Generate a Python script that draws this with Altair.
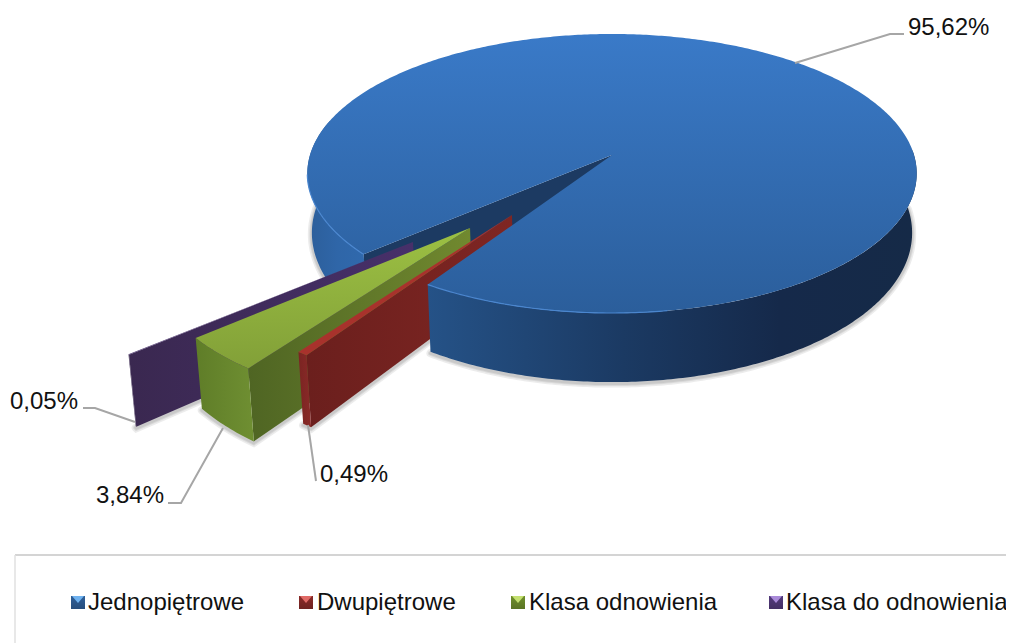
import math
import altair as alt

# ---- values ----
CATEGORIES = ["Jednopiętrowe", "Dwupiętrowe", "Klasa odnowienia", "Klasa do odnowienia"]
SHARES = [95.62, 0.49, 3.84, 0.05]
LABELS = ["95,62%", "0,49%", "3,84%", "0,05%"]

# ---- style / layout ----
FONT = "Liberation Sans"
LEADER = "#a6a6a6"
START_DEG = 228.6
EXPLODE = {1: (-0.313, 0.414), 2: (-0.439, 0.498), 3: (-0.608, 0.585)}
SLICE_R = 0.97
SLICE_TURN = 0.6
LABEL_POS = [(908, 35), (320, 482), (96, 503), (10, 409)]
LEADERS = [
    [(795, 63), (890, 34), (904, 34)],
    [(308, 425), (316, 481)],
    [(223, 428), (181, 503), (168, 503)],
    [(135, 422), (95, 408), (83, 408)],
]
LEGEND_TEXT_X = [88, 317, 529, 786]
LEGEND_KEY_X = [71, 299, 511, 769]
LEGEND_BASE = 610
KEY_COLORS = [("#2f5f98", "#264d7c", "#6fb2f0"), ("#8a2a28", "#6e2220", "#e06a66"),
              ("#6f8f2c", "#5a7424", "#c4e070"), ("#533a7c", "#432f64", "#a98ad8")]

CX, A, B, AV, CV = 612.0, 302.0, 155.0, 116.5, -0.1326


def top(u, v):
    d = 1 + CV * v
    return (CX + A * u / d, (AV * v + B) / d)


def bottom(p):
    return (CX + (p[0] - CX) * 0.985, p[1] * 1.07 + 47.2)


def on_rim(deg, r=1.0, off=(0.0, 0.0)):
    t = math.radians(deg)
    return top(off[0] + r * math.sin(t), off[1] - r * math.cos(t))


def arc(a0, a1, r=1.0, off=(0.0, 0.0)):
    n = max(2, int(abs(a1 - a0) * 1.5))
    return [on_rim(a0 + (a1 - a0) * i / n, r, off) for i in range(n + 1)]


def gradient(stops, horizontal=False):
    s = [alt.GradientStop(offset=o, color=c) for o, c in stops]
    if horizontal:
        return alt.Gradient(gradient="linear", stops=s, x1=0, y1=0, x2=1, y2=0)
    return alt.Gradient(gradient="linear", stops=s, x1=0, y1=0, x2=0, y2=1)


PROJ = dict(type="identity", scale=1, translate=[-8, -8])


def feature(kind, pts):
    coords = [list(p) for p in pts]
    if kind == "Polygon":
        coords = [coords + [coords[0]]]
    return {"type": "Feature", "properties": {}, "geometry": {"type": kind, "coordinates": coords}}


def poly(pts, fill, **kw):
    return (
        alt.Chart(alt.Data(values=[feature("Polygon", pts)]))
        .mark_geoshape(fill=fill, strokeWidth=0, **kw)
        .project(**PROJ)
    )


def line(pts, color, width, **kw):
    return (
        alt.Chart(alt.Data(values=[feature("LineString", pts)]))
        .mark_geoshape(filled=False, stroke=color, strokeWidth=width, **kw)
        .project(**PROJ)
    )


def wall(upper):
    return upper + [bottom(p) for p in reversed(upper)]


def soft_shadow(pts):
    moved = [(x, y + 1.5) for x, y in pts]
    return [line(moved, "#000000", w, opacity=0.07, strokeCap="round") for w in (8, 5, 3)]


# angles from the shares
spans = []
a = START_DEG
for s in SHARES:
    spans.append((a, a + s * 3.6))
    a += s * 3.6

layers = []
blue0, blue1 = spans[0]
apex = top(0, 0)

# ground shadows
layers += soft_shadow([bottom(p) for p in arc(blue1, blue1 - 125)])
layers += soft_shadow([bottom(p) for p in arc(blue0, 285)])
for i in (3, 2, 1):
    off = EXPLODE[i]
    rim = arc(spans[i][0] + SLICE_TURN, spans[i][1] + SLICE_TURN, SLICE_R, off)
    layers += soft_shadow([bottom(top(*off)), bottom(rim[0])] + [bottom(p) for p in rim])

# blue: back-left wall and the inner cut wall
layers.append(poly(wall(arc(blue0, 285)),
                   gradient([(0, "#2c5e9a"), (0.5, "#2f66a8"), (1, "#3069ad")], True)))
layers.append(poly(wall([apex, on_rim(blue0)]),
                   gradient([(0, "#1c3a62"), (1, "#1c3a62")])))

# exploded slices, far to near
slice_style = {
    3: dict(top=("#4f3470", "#47306a"), radial=("#3a2850", "#47306a"), outer=("#3a2850", "#3a2850")),
    2: dict(top=("#9cc043", "#82a038"), radial=("#4f6523", "#71892f"), outer=("#6f8f32", "#5f7d28")),
    1: dict(top=("#a8322c", "#a8322c"), radial=("#6b1f1d", "#7f2623"), outer=("#8a2a28", "#7a2422")),
}
for i in (3, 2, 1):
    a0, a1 = spans[i]
    a0 += SLICE_TURN
    a1 += SLICE_TURN
    off = EXPLODE[i]
    tip = top(*off)
    rim = arc(a0, a1, SLICE_R, off)
    st = slice_style[i]
    near = rim[0]
    layers.append(poly(wall([near, tip]), gradient([(0, st["radial"][0]), (1, st["radial"][1])], True)))
    layers.append(poly(wall(rim), gradient([(0, st["outer"][1]), (1, st["outer"][0])], True)))
    layers.append(poly([tip] + rim, gradient([(0, st["top"][0]), (1, st["top"][1])])))

# blue: front wall and top face
layers.append(poly(wall(arc(blue1, blue1 - 125)),
                   gradient([(0, "#255287"), (0.4, "#1b3a63"), (0.72, "#15294a"), (1, "#152a47")], True)))
layers.append(poly([apex] + arc(blue0, blue1),
                   gradient([(0, "#3a7ac8"), (1, "#2b5e9b")])))
layers.append(line(arc(blue1, blue1 - 42), "#4a86cf", 1.2))
layers.append(line(arc(blue0, 262), "#4a86cf", 1.2))

# leaders
for pts in LEADERS:
    layers.append(line(pts, LEADER, 2))

# legend frame
layers.append(line([(15, 555), (1014, 555)], "#c6c6c6", 1.5))
layers.append(line([(15, 555), (15, 643)], "#e0e0e0", 1.5))

# legend keys
for x, (dark, darker, light) in zip(LEGEND_KEY_X, KEY_COLORS):
    y0, y1 = 596, 609
    layers.append(poly([(x, y0), (x + 14, y0), (x + 14, y1), (x, y1)], gradient([(0, dark), (1, darker)])))
    layers.append(poly([(x + 1, y0), (x + 13, y0), (x + 7, y0 + 7)], light))

# texts
label_rows = [{"lon": p[0], "lat": p[1], "t": t} for p, t in zip(LABEL_POS, LABELS)]
legend_rows = [{"lon": x, "lat": LEGEND_BASE, "t": c} for x, c in zip(LEGEND_TEXT_X, CATEGORIES)]
layers.append(
    alt.Chart(alt.Data(values=label_rows + legend_rows))
    .mark_text(font=FONT, fontSize=24, align="left", baseline="alphabetic", color="#111111")
    .encode(longitude="lon:Q", latitude="lat:Q", text="t:N")
    .project(**PROJ)
)

chart = (
    alt.layer(*layers)
    .properties(width=998, height=635, padding=0)
    .configure_view(stroke=None)
)
chart.save("out.html", embed_options={"renderer": "svg", "actions": False})
